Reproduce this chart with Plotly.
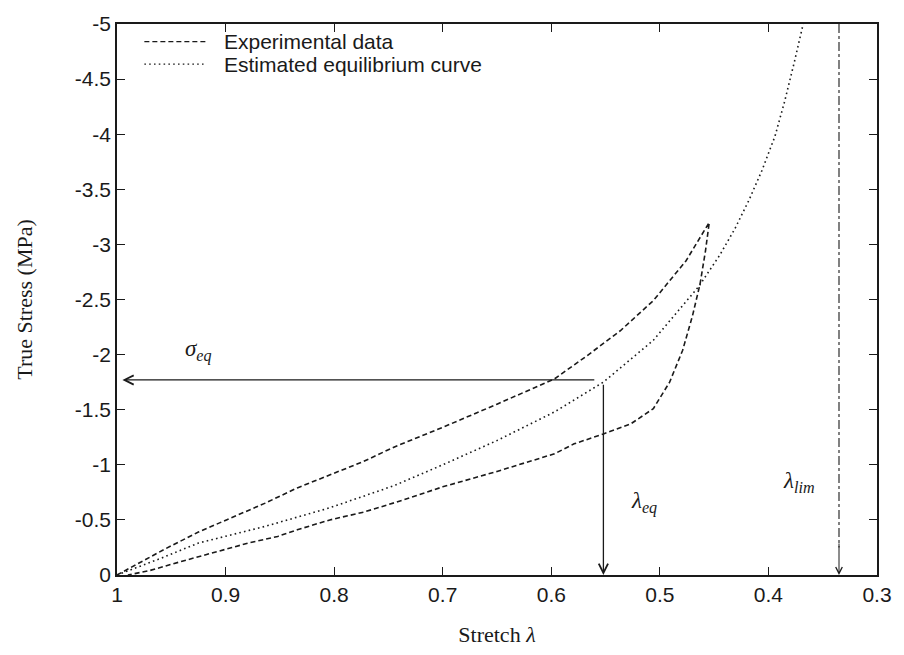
import plotly.graph_objects as go

# Loading branch of the measured hysteresis loop (stretch, true stress in MPa)
load_stretch = [1.0, 0.98, 0.955, 0.925, 0.895, 0.864, 0.834, 0.804, 0.773, 0.745,
                0.70, 0.65, 0.597, 0.567, 0.536, 0.506, 0.476, 0.4545]
load_stress = [0.0, -0.11, -0.24, -0.39, -0.52, -0.65, -0.79, -0.91, -1.03, -1.16,
               -1.34, -1.55, -1.78, -1.99, -2.22, -2.49, -2.85, -3.2]

# Unloading branch back to the undeformed state
unload_stretch = [0.4545, 0.458, 0.463, 0.47, 0.479, 0.491, 0.506, 0.527, 0.552, 0.579,
                  0.597, 0.65, 0.70, 0.743, 0.773, 0.804, 0.834, 0.852, 0.879, 0.909,
                  0.94, 0.97, 0.99]
unload_stress = [-3.2, -2.94, -2.64, -2.35, -2.04, -1.75, -1.51, -1.37, -1.28, -1.19,
                 -1.10, -0.94, -0.80, -0.66, -0.57, -0.50, -0.41, -0.35, -0.29, -0.21,
                 -0.125, -0.04, 0.0]

# Estimated equilibrium curve
eq_stretch = [1.0, 0.96, 0.925, 0.864, 0.804, 0.745, 0.70, 0.65, 0.597, 0.552, 0.506,
              0.464, 0.445, 0.431, 0.418, 0.406, 0.394, 0.385, 0.376, 0.368]
eq_stress = [0.0, -0.15, -0.29, -0.44, -0.61, -0.81, -1.0, -1.22, -1.48, -1.75, -2.13,
             -2.62, -2.90, -3.14, -3.40, -3.67, -3.98, -4.30, -4.66, -5.0]

# Equilibrium point and limiting stretch
sigma_eq = -1.77
lambda_eq = 0.552
lambda_lim = 0.335

x_ticks = [1.0, 0.9, 0.8, 0.7, 0.6, 0.5, 0.4, 0.3]
x_tick_text = ["1", "0.9", "0.8", "0.7", "0.6", "0.5", "0.4", "0.3"]
y_ticks = [0, -0.5, -1, -1.5, -2, -2.5, -3, -3.5, -4, -4.5, -5]
y_tick_text = ["0", "-0.5", "-1", "-1.5", "-2", "-2.5", "-3", "-3.5", "-4", "-4.5", "-5"]

legend_labels = ["Experimental data", "Estimated equilibrium curve"]

INK = "#1a1a1a"
DASH = "5px,3px"
DOT = "1.6px,3.2px"
SANS = "Liberation Sans, Arial, sans-serif"
SERIF = "Liberation Serif, Times New Roman, serif"

fig = go.Figure()

fig.add_trace(go.Scatter(
    x=load_stretch + unload_stretch[1:], y=load_stress + unload_stress[1:],
    mode="lines", name=legend_labels[0],
    line=dict(color=INK, width=1.6, dash=DASH),
))
fig.add_trace(go.Scatter(
    x=eq_stretch, y=eq_stress, mode="lines", name=legend_labels[1],
    line=dict(color=INK, width=1.6, dash=DOT),
))
# Limiting stretch (dash-dot vertical)
fig.add_trace(go.Scatter(
    x=[lambda_lim, lambda_lim], y=[-5, -0.25], mode="lines", name="lambda_lim",
    line=dict(color=INK, width=1.1, dash="dashdot"),
))

annotations = [
    # sigma_eq arrow pointing to the stress axis
    dict(x=0.995, y=sigma_eq, ax=lambda_eq + 0.007, ay=sigma_eq,
         xref="x", yref="y", axref="x", ayref="y", text="", showarrow=True,
         arrowhead=5, arrowsize=1.4, arrowwidth=1.3, arrowcolor=INK),
    # lambda_eq arrow pointing to the stretch axis
    dict(x=lambda_eq, y=0, ax=lambda_eq, ay=sigma_eq + 0.03,
         xref="x", yref="y", axref="x", ayref="y", text="", showarrow=True,
         arrowhead=5, arrowsize=1.4, arrowwidth=1.3, arrowcolor=INK),
    # arrow tip of the limiting stretch line
    dict(x=lambda_lim, y=0, ax=lambda_lim, ay=-0.3,
         xref="x", yref="y", axref="x", ayref="y", text="", showarrow=True,
         arrowhead=5, arrowsize=1.3, arrowwidth=1.0, arrowcolor=INK),
    dict(x=0.925, y=-2.04, xref="x", yref="y", showarrow=False,
         text="<i>σ</i><sub><i>eq</i></sub>", font=dict(family=SERIF, size=23, color=INK)),
    dict(x=0.5145, y=-0.66, xref="x", yref="y", showarrow=False,
         text="<i>λ</i><sub><i>eq</i></sub>", font=dict(family=SERIF, size=23, color=INK)),
    dict(x=0.372, y=-0.84, xref="x", yref="y", showarrow=False,
         text="<i>λ</i><sub><i>lim</i></sub>", font=dict(family=SERIF, size=23, color=INK)),
]

# Legend drawn inside the frame: line samples plus labels
legend_rows = [(0.968, DASH), (0.927, DOT)]
shapes = []
for (yy, dash), label in zip(legend_rows, legend_labels):
    shapes.append(dict(type="line", xref="paper", yref="paper",
                       x0=0.036, x1=0.118, y0=yy, y1=yy,
                       line=dict(color=INK, width=1.3, dash=dash)))
    annotations.append(dict(x=0.138, y=yy, xref="paper", yref="paper",
                            xanchor="left", yanchor="middle", showarrow=False,
                            text=label, font=dict(family=SANS, size=21, color=INK)))

axis_common = dict(
    showline=True, linecolor=INK, linewidth=1.5, mirror="ticks",
    ticks="inside", ticklen=8, tickwidth=1.3, tickcolor=INK,
    showgrid=False, zeroline=False,
    tickfont=dict(family=SANS, size=21, color=INK),
)

fig.update_layout(
    width=904, height=655,
    margin=dict(l=117, r=17, t=15, b=79),
    paper_bgcolor="white", plot_bgcolor="white",
    showlegend=False,
    annotations=annotations,
    shapes=shapes,
    xaxis=dict(range=[1.0, 0.3], tickvals=x_ticks, ticktext=x_tick_text,
               title=dict(text="Stretch <i>λ</i>", font=dict(family=SERIF, size=22, color=INK),
                          standoff=22),
               **axis_common),
    yaxis=dict(range=[0, -5], tickvals=y_ticks, ticktext=y_tick_text,
               title=dict(text="True Stress (MPa)", font=dict(family=SERIF, size=22, color=INK),
                          standoff=36),
               **axis_common),
)

fig.write_html("out.html")
